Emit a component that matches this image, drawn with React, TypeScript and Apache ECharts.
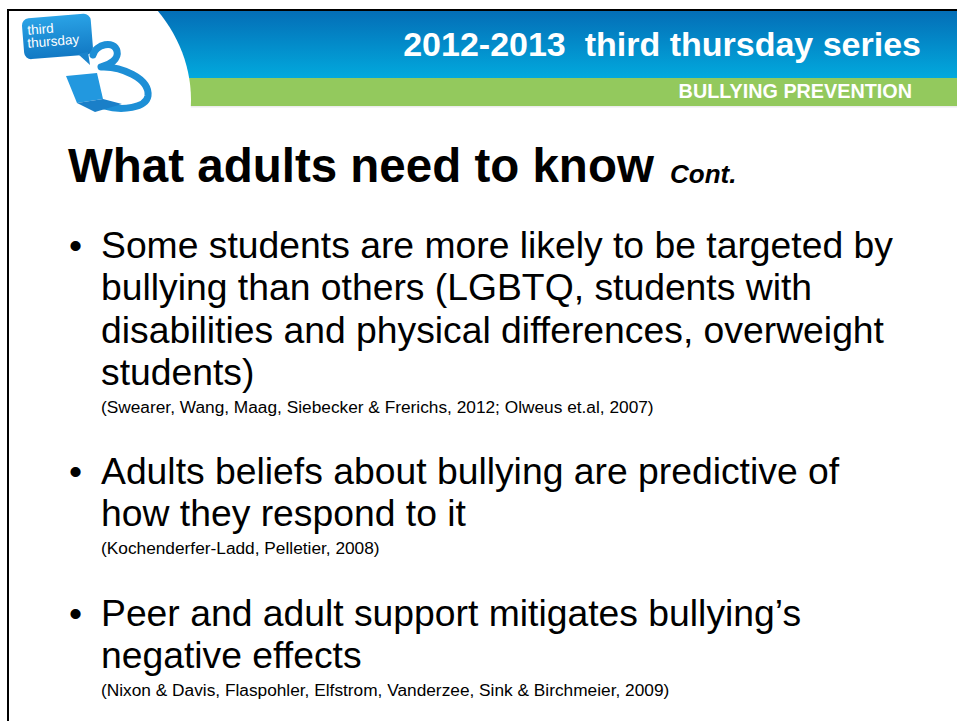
import React, { useEffect, useRef } from "react";
import * as echarts from "echarts";

// ---- content ----
const headerTitle = "2012-2013  third thursday series";
const headerSubtitle = "BULLYING PREVENTION";
const logoLines = ["third", "thursday"];
const slideTitle = "What adults need to know";
const titleSuffix = "Cont.";

const bullet1Lines = [
  "Some students are more likely to be targeted by",
  "bullying than others (LGBTQ, students with",
  "disabilities and physical differences, overweight",
  "students)",
];
const bullet1Citation =
  "(Swearer, Wang, Maag, Siebecker & Frerichs, 2012; Olweus et.al, 2007)";

const bullet2Lines = [
  "Adults beliefs about bullying are predictive of",
  "how they respond to it",
];
const bullet2Citation = "(Kochenderfer-Ladd, Pelletier, 2008)";

const bullet3Lines = [
  "Peer and adult support mitigates bullying\u2019s",
  "negative effects",
];
const bullet3Citation =
  "(Nixon & Davis, Flaspohler, Elfstrom, Vanderzee, Sink & Birchmeier, 2009)";

// ---- layout (not data) ----
const FONT = '"Liberation Sans", Arial, Helvetica, sans-serif';
const BODY_FS = 37.3;
const CITE_FS = 17.3;
const LINE_GAP = 42.3;
const bulletBlocks = [
  { lines: bullet1Lines, citation: bullet1Citation, firstCenter: 245, citeCenter: 407 },
  { lines: bullet2Lines, citation: bullet2Citation, firstCenter: 471, citeCenter: 548 },
  { lines: bullet3Lines, citation: bullet3Citation, firstCenter: 612.5, citeCenter: 690 },
];

const THREE_PATH =
  "M 93 55 C 96 44 114 40 117 51 C 119 59 110 65 101 67 C 120 66 150 78 148 96 C 146 108 122 111 104 106";
const LAPTOP_SCREEN = "M 66 76 L 97 73 L 103 99 L 77 103 Z";
const LAPTOP_BASE = "M 77 103 L 103 99 L 122 104 L 95 112 Z";

let registered = false;
function registerShapes() {
  if (registered) return;
  registered = true;
  echarts.graphic.registerShape("threeShape", echarts.graphic.extendPath(THREE_PATH, {}));
  echarts.graphic.registerShape("laptopScreen", echarts.graphic.extendPath(LAPTOP_SCREEN, {}));
  echarts.graphic.registerShape("laptopBase", echarts.graphic.extendPath(LAPTOP_BASE, {}));
}

export default function App() {
  const ref = useRef<HTMLDivElement>(null);

  useEffect(() => {
    if (!ref.current) return;
    registerShapes();
    const chart = echarts.init(ref.current, null, { renderer: "svg" });

    const blueGrad = new echarts.graphic.LinearGradient(0, 0, 0, 1, [
      { offset: 0, color: "#046db6" },
      { offset: 1, color: "#02a9dd" },
    ]);
    const logoGrad = new echarts.graphic.LinearGradient(0, 0, 0, 1, [
      { offset: 0, color: "#2aa3e6" },
      { offset: 1, color: "#1279c4" },
    ]);

    const elements: any[] = [];

    // header bands
    elements.push({
      type: "rect",
      shape: { x: 100, y: 10, width: 857, height: 68 },
      style: { fill: blueGrad },
    });
    elements.push({
      type: "rect",
      shape: { x: 100, y: 78, width: 857, height: 28 },
      style: { fill: "#93c95d" },
    });
    elements.push({
      type: "rect",
      shape: { x: 190, y: 106, width: 767, height: 1.5 },
      style: { fill: "#ececec" },
    });
    elements.push({
      type: "ellipse",
      shape: { cx: 0, cy: 100, rx: 191, ry: 158 },
      style: { fill: "#ffffff" },
    });

    // logo
    elements.push({
      type: "group",
      x: 57,
      y: 37,
      rotation: 0.08,
      children: [
        {
          type: "rect",
          shape: { x: -34, y: -21, width: 69, height: 41, r: 7 },
          style: { fill: logoGrad },
        },
        {
          type: "text",
          x: -29,
          y: -9,
          style: {
            text: logoLines[0],
            fill: "#ffffff",
            fontSize: 13.5,
            fontFamily: FONT,
            align: "left",
            verticalAlign: "middle",
          },
        },
        {
          type: "text",
          x: -30,
          y: 4,
          style: {
            text: logoLines[1],
            fill: "#ffffff",
            fontSize: 13.5,
            fontFamily: FONT,
            align: "left",
            verticalAlign: "middle",
          },
        },
      ],
    });
    elements.push({
      type: "polygon",
      shape: { points: [[78, 54], [90, 65], [88, 52]] },
      style: { fill: "#1a83cc" },
    });
    elements.push({
      type: "threeShape",
      x: 0,
      y: 0,
      style: { fill: "none", stroke: "#1d8fd6", lineWidth: 7, lineCap: "round", lineJoin: "round" },
    });
    elements.push({
      type: "laptopScreen",
      x: 0,
      y: 0,
      style: { fill: "#2298df" },
    });
    elements.push({
      type: "laptopBase",
      x: 0,
      y: 0,
      style: { fill: "#1a7fc8" },
    });

    // header texts
    elements.push({
      type: "text",
      x: 921,
      y: 44,
      style: {
        text: headerTitle,
        fill: "#ffffff",
        fontSize: 34,
        fontWeight: "bold",
        fontFamily: FONT,
        align: "right",
        verticalAlign: "middle",
      },
    });
    elements.push({
      type: "text",
      x: 912,
      y: 91,
      style: {
        text: headerSubtitle,
        fill: "#ffffff",
        fontSize: 19.8,
        fontWeight: "bold",
        fontFamily: FONT,
        align: "right",
        verticalAlign: "middle",
      },
    });

    // slide title
    elements.push({
      type: "text",
      x: 68,
      y: 165.5,
      style: {
        text: slideTitle,
        fill: "#000000",
        fontSize: 47.5,
        fontWeight: "bold",
        fontFamily: FONT,
        align: "left",
        verticalAlign: "middle",
      },
    });
    elements.push({
      type: "text",
      x: 670,
      y: 174,
      style: {
        text: titleSuffix,
        fill: "#000000",
        fontSize: 26,
        fontWeight: "bold",
        fontStyle: "italic",
        fontFamily: FONT,
        align: "left",
        verticalAlign: "middle",
      },
    });

    // bullets
    bulletBlocks.forEach((b) => {
      elements.push({
        type: "text",
        x: 69,
        y: b.firstCenter,
        style: {
          text: "\u2022",
          fill: "#000000",
          fontSize: BODY_FS,
          fontFamily: FONT,
          align: "left",
          verticalAlign: "middle",
        },
      });
      b.lines.forEach((line, i) => {
        elements.push({
          type: "text",
          x: 101,
          y: b.firstCenter + i * LINE_GAP,
          style: {
            text: line,
            fill: "#000000",
            fontSize: BODY_FS,
            fontFamily: FONT,
            align: "left",
            verticalAlign: "middle",
          },
        });
      });
      elements.push({
        type: "text",
        x: 101,
        y: b.citeCenter,
        style: {
          text: b.citation,
          fill: "#000000",
          fontSize: CITE_FS,
          fontFamily: FONT,
          align: "left",
          verticalAlign: "middle",
        },
      });
    });

    // slide frame (top and left edges)
    elements.push({
      type: "line",
      shape: { x1: 7, y1: 10, x2: 957, y2: 10 },
      style: { stroke: "#000000", lineWidth: 2 },
    });
    elements.push({
      type: "line",
      shape: { x1: 8, y1: 9, x2: 8, y2: 721 },
      style: { stroke: "#000000", lineWidth: 2 },
    });

    chart.setOption({
      animation: false,
      backgroundColor: "#ffffff",
      graphic: { elements },
    });

    return () => chart.dispose();
  }, []);

  return (
    <div
      ref={ref}
      style={{ position: "absolute", left: 0, top: 0, width: 957, height: 721 }}
    />
  );
}
